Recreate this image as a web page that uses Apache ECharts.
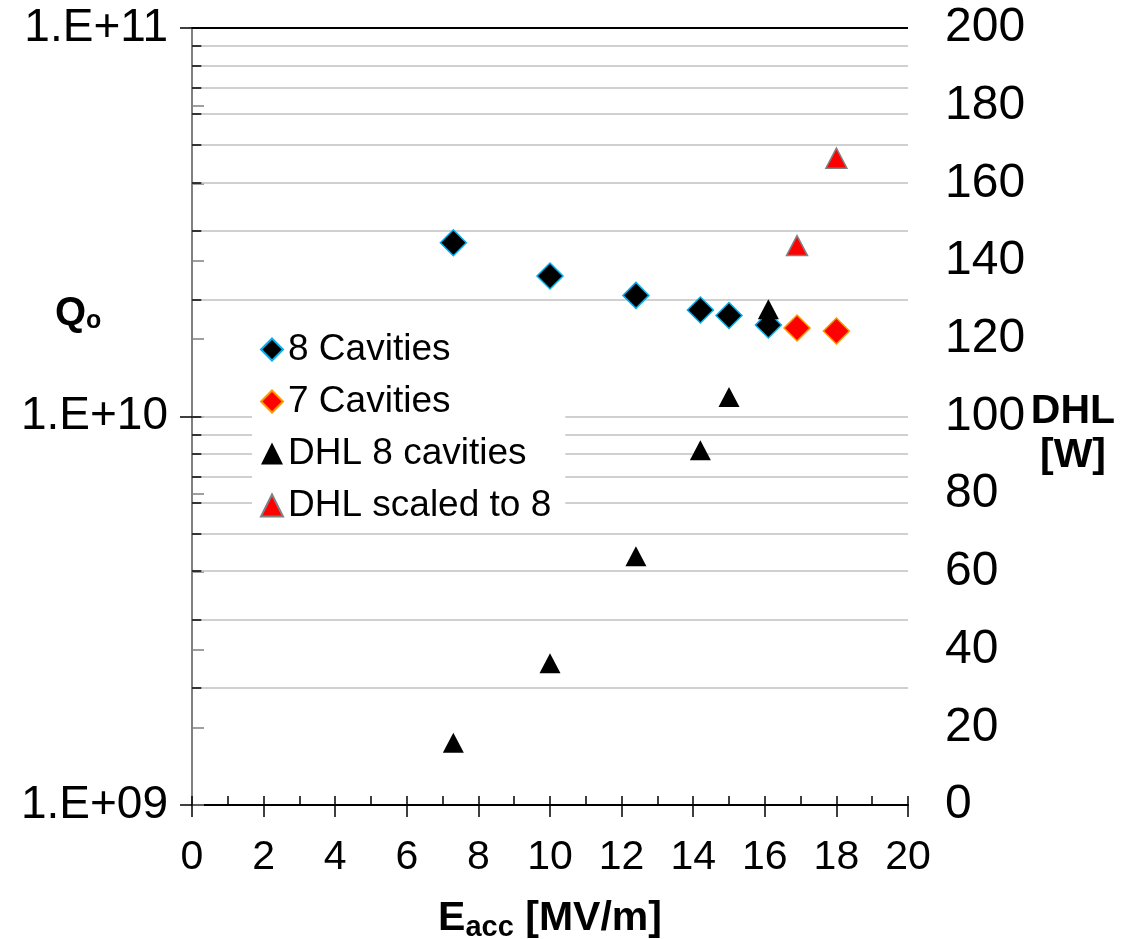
<!DOCTYPE html>
<html>
<head>
<meta charset="utf-8">
<script src="https://cdn.jsdelivr.net/npm/echarts@6/dist/echarts.min.js"></script>
<style>
html,body{margin:0;padding:0;background:#fff;}
#chart{width:1140px;height:939px;}
</style>
</head>
<body>
<div id="chart"></div>
<script>
// ---- data ----
const eacc8 = [7.3, 10.0, 12.4, 14.2, 15.0, 16.1];
const q8 = [2.8e10, 2.3e10, 2.05e10, 1.88e10, 1.82e10, 1.72e10];
const eacc7 = [16.9, 18.0];
const q7 = [1.69e10, 1.66e10];
const dhl8 = [16, 36.5, 64, 91.3, 105, 127.6];
const dhlScaled = [144, 166.5];
const seriesNames = ['8 Cavities', '7 Cavities', 'DHL 8 cavities', 'DHL scaled to 8'];
const xTicks = {min: 0, max: 20, interval: 2};
const yRightTicks = {min: 0, max: 200, interval: 20};
const logGridValues = [2e9,3e9,4e9,5e9,6e9,7e9,8e9,9e9,1e10,2e10,3e10,4e10,5e10,6e10,7e10,8e10,9e10];

const FONT = '"Liberation Sans", Arial, sans-serif';
const pair = (xs, ys) => xs.map((x, i) => [x, ys[i]]);

const chart = echarts.init(document.getElementById('chart'));
const gridLineData = logGridValues.map(v => ({yAxis: v}));
gridLineData.push({yAxis: 1e11, lineStyle: {color: '#000', width: 2}});
const tickData = logGridValues.map(v => [{coord: [0, v]}, {coord: [0.26, v]}]);

const option = {
  backgroundColor: '#fff',
  animation: false,
  textStyle: {fontFamily: FONT},
  grid: {left: 192, right: 232, top: 28, bottom: 134, containLabel: false, outerBoundsMode: 'none'},
  legend: {
    orient: 'vertical',
    left: 252, top: 325,
    z: 20, zlevel: 0,
    backgroundColor: '#ffffff',
    padding: [6, 14, 8, 8],
    itemGap: 15,
    itemWidth: 22, itemHeight: 22,
    textStyle: {fontSize: 37, color: '#000', fontFamily: FONT, padding: [0, 0, 0, 0]},
    data: seriesNames
  },
  xAxis: [{
    type: 'value', min: xTicks.min, max: xTicks.max, interval: xTicks.interval,
    position: 'bottom',
    axisLine: {show: true, lineStyle: {color: '#000', width: 2}},
    axisTick: {show: true, inside: false, length: 12, lineStyle: {color: '#000', width: 1.5}},
    axisLabel: {fontSize: 41, color: '#000', margin: 32, fontFamily: FONT},
    splitLine: {show: false},
    name: '{b|E}{s|acc}{b| [MV/m]}',
    nameLocation: 'middle', nameGap: 90,
    nameTextStyle: {
      rich: {
        b: {fontSize: 41, fontWeight: 'bold', color: '#000', fontFamily: FONT},
        s: {fontSize: 29, fontWeight: 'bold', color: '#000', fontFamily: FONT, padding: [18, 0, 0, 0]}
      }
    }
  }, {
    type: 'value', min: 0, max: 20, interval: 1, position: 'bottom',
    axisLine: {show: false},
    axisTick: {show: true, inside: true, length: 9, lineStyle: {color: '#000', width: 1.5}},
    axisLabel: {show: false},
    splitLine: {show: false}
  }],
  yAxis: [{
    type: 'log', logBase: 10, min: 1e9, max: 1e11,
    position: 'left',
    axisLine: {show: true, lineStyle: {color: '#000', width: 2}},
    axisTick: {show: true, inside: false, length: 12, lineStyle: {color: '#000', width: 1.5}},
    axisLabel: {
      fontSize: 46, color: '#000', margin: 24, fontFamily: FONT,
      formatter: v => '1.E+' + String(Math.round(Math.log10(v))).padStart(2, '0')
    },
    splitLine: {show: false},
    minorTick: {show: false}
  }, {
    type: 'value', min: yRightTicks.min, max: yRightTicks.max, interval: yRightTicks.interval,
    position: 'right',
    axisLine: {show: true, lineStyle: {color: '#808080', width: 2}},
    axisTick: {show: true, inside: false, length: 12, lineStyle: {color: '#808080', width: 1.5}},
    axisLabel: {fontSize: 48, color: '#000', margin: 37, fontFamily: FONT},
    splitLine: {show: false}
  }],
  graphic: [{
    type: 'text', left: 55, top: 294,
    style: {
      text: '{b|Q}{s|o}',
      rich: {
        b: {fontSize: 40, fontWeight: 'bold', fill: '#000', fontFamily: FONT},
        s: {fontSize: 25, fontWeight: 'bold', fill: '#000', fontFamily: FONT, padding: [15, 0, 0, 0]}
      }
    }
  }, {
    type: 'text', x: 1073, y: 390,
    style: {
      text: 'DHL\n[W]',
      font: 'bold 41px ' + FONT,
      fill: '#000',
      align: 'center',
      verticalAlign: 'top',
      lineHeight: 44
    }
  }],
  series: [{
    name: '_grid', type: 'line', data: [], xAxisIndex: 0, yAxisIndex: 0, z: 1, silent: true,
    markLine: {
      silent: true, symbol: 'none', animation: false, z: 1,
      label: {show: false},
      lineStyle: {color: '#c0c0c0', width: 1.5, type: 'solid'},
      emphasis: {disabled: true},
      data: gridLineData
    }
  }, {
    name: '_ticks', type: 'line', data: [], xAxisIndex: 0, yAxisIndex: 0, z: 1, silent: true,
    markLine: {
      silent: true, symbol: 'none', animation: false, z: 1,
      label: {show: false},
      lineStyle: {color: '#000', width: 1.5, type: 'solid'},
      emphasis: {disabled: true},
      data: tickData
    }
  }, {
    name: seriesNames[0], type: 'scatter', xAxisIndex: 0, yAxisIndex: 0, z: 5,
    symbol: 'diamond', symbolSize: 26,
    itemStyle: {color: '#000', borderColor: '#00b0f0', borderWidth: 1.5, opacity: 1},
    data: pair(eacc8, q8)
  }, {
    name: seriesNames[1], type: 'scatter', xAxisIndex: 0, yAxisIndex: 0, z: 5,
    symbol: 'diamond', symbolSize: 26,
    itemStyle: {color: '#ff0000', borderColor: '#ff9900', borderWidth: 1.5, opacity: 1},
    data: pair(eacc7, q7)
  }, {
    name: seriesNames[2], type: 'scatter', xAxisIndex: 0, yAxisIndex: 1, z: 6,
    symbol: 'triangle', symbolSize: [21, 20],
    itemStyle: {color: '#000', opacity: 1},
    data: pair(eacc8, dhl8)
  }, {
    name: seriesNames[3], type: 'scatter', xAxisIndex: 0, yAxisIndex: 1, z: 6,
    symbol: 'triangle', symbolSize: [21, 20],
    itemStyle: {color: '#ff0000', borderColor: '#808080', borderWidth: 1.5, opacity: 1},
    data: pair(eacc7, dhlScaled)
  }]
};
chart.setOption(option);
</script>
</body>
</html>
